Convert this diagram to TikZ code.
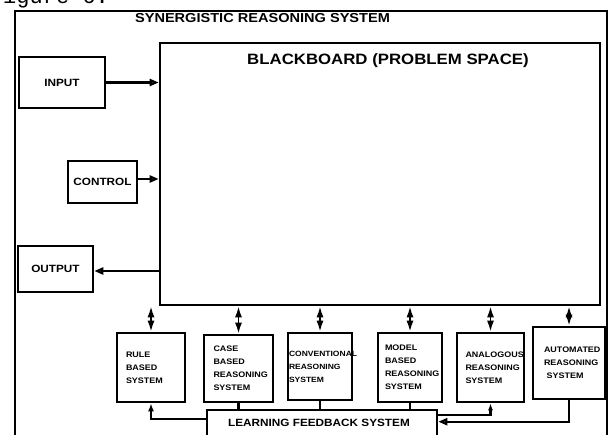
\documentclass[tikz,border=0pt]{standalone}
\usepackage{fontspec}
\setmainfont{Liberation Sans}[FakeStretch=1.12]
\setmonofont{Liberation Mono}
\usetikzlibrary{arrows.meta, positioning}

\tikzset{
  box/.style={draw, line width=2.6pt, inner sep=0pt, font=\fontsize{10.5}{12}\selectfont\bfseries},
  sysbox/.style={draw, line width=2.6pt, inner sep=0pt, align=left, text width=50pt,
    font=\fontsize{8}{13}\selectfont\bfseries},
  link/.style={line width=2.2pt},
  feed/.style={line width=2.2pt, -{Triangle[open, length=9pt, width=7pt]}},
  twoway/.style={line width=1.8pt, {Latex[length=11pt, width=7pt]}-{Latex[length=11pt, width=7pt]}}
}

\begin{document}
\begin{tikzpicture}[x=1pt, y=-1pt, >={Latex[length=8pt, width=6pt]}]
  \useasboundingbox (0,0) rectangle (609,435);
  % caption and frame
  \node[font=\fontsize{22}{22}\selectfont\ttfamily, anchor=base west] (fig) at (-13.5,4) {Figure 6.};
  \draw[line width=2pt] (15,445) -- (15,11) -- (607,11) -- (607,445);
  \node[font=\fontsize{13}{13}\selectfont\bfseries] (title) at (262.5,18) {SYNERGISTIC REASONING SYSTEM};

  % blackboard
  \node[box, minimum width=440pt, minimum height=262pt] (bb) at (380,174) {};
  \node[font=\fontsize{15}{15}\selectfont\bfseries] (bblabel) at (388,60.5) {BLACKBOARD (PROBLEM SPACE)};

  % left side
  \node[box, minimum width=86pt, minimum height=51pt] (input) at (62,82.5) {INPUT};
  \node[box, minimum width=69pt, minimum height=42pt] (control) at (102.5,182) {CONTROL};
  \node[box, minimum width=75pt, minimum height=46pt] (output) at (55.5,269) {OUTPUT};
  \draw[feed] (input.east) -- (input.east -| bb.west);
  \draw[feed] ([yshift=3pt]control.east) -- ([yshift=3pt]control.east -| bb.west);
  \draw[feed] ([yshift=-2pt]output.east -| bb.west) -- ([yshift=-2pt]output.east);

  % reasoning systems
  \node[sysbox, minimum width=68pt, minimum height=69pt] (rule) at (151,367.5) {RULE\\BASED\\SYSTEM};
  \node[sysbox, minimum width=69pt, minimum height=67pt] (case) at (238.5,368.5) {CASE\\BASED\\REASONING\\SYSTEM};
  \node[sysbox, minimum width=64pt, minimum height=67pt, text width=62pt, font=\fontsize{7.6}{13}\selectfont\bfseries] (conv) at (320,366.5) {CONVENTIONAL\\REASONING\\SYSTEM};
  \node[sysbox, minimum width=64pt, minimum height=69pt] (model) at (410,367.5) {MODEL\\BASED\\REASONING\\SYSTEM};
  \node[sysbox, minimum width=67pt, minimum height=69pt] (analog) at (490.5,367.5) {ANALOGOUS\\REASONING\\SYSTEM};
  \node[sysbox, minimum width=72pt, minimum height=72pt] (auto) at (569,363) {AUTOMATED\\REASONING\\\ SYSTEM};
  \foreach \s in {rule, case, conv, model, analog, auto}
    \draw[twoway] (\s.north |- bb.south) -- (\s.north);

  % learning feedback
  \node[box, minimum width=230pt, minimum height=30pt] (learn) at (322,425) {};
  \node[font=\fontsize{10.5}{12}\selectfont\bfseries] (learnlabel) at (319,423) {LEARNING FEEDBACK SYSTEM};
  \draw[link, ->] ([yshift=-10pt]learn.north west) -| (rule.south);
  \draw[link] (case.south) -- (case.south |- learn.north);
  \draw[link] (conv.south) -- (conv.south |- learn.north);
  \draw[link] (model.south) -- (model.south |- learn.north);
  \draw[feed, {Latex[length=7pt, width=5pt]}-] (analog.south) |- ([yshift=-6pt]learn.north east);
  \draw[feed] (auto.south) |- ([yshift=-13pt]learn.north east);
\end{tikzpicture}
\end{document}
